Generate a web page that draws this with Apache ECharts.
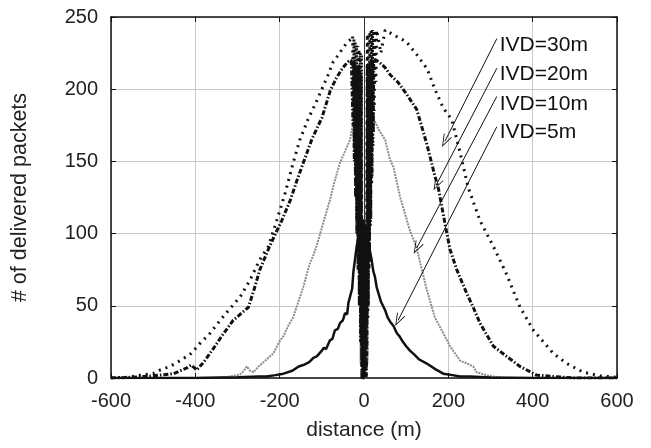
<!DOCTYPE html>
<html>
<head>
<meta charset="utf-8">
<script src="https://cdn.jsdelivr.net/npm/echarts@6/dist/echarts.min.js"></script>
<style>
  html, body { margin: 0; padding: 0; background: #fff; }
  #chart { width: 651px; height: 448px; }
</style>
</head>
<body>
<div id="chart"></div>
<script>
// IVD=30m (dotted)
var ivd30X = [-600, -560, -530, -500, -484, -460, -436, -410, -389, -365, -341, -318, -294, -270, -247, -227, -207, -187, -168, -152, -133, -115, -100, -85, -73, -60, -49, -38, -29,
  -27, -26, -24, -23, -21, -20, -18, -17, -15, -14, -12, -11, -9, -8, -6, -5, 0, 5,
  6, 8, 9, 11, 12, 14, 15, 17, 18, 20, 21, 23, 24, 26, 28, 30,
  40, 50, 62, 80, 100, 125, 150, 168, 188, 208, 228, 247, 275, 307, 338, 370, 402, 449, 481, 520, 560, 600];
var ivd30Y = [0, 0.5, 2, 3, 5.5, 8, 12, 17, 24, 31, 40, 48, 56, 68, 82, 91, 109, 128, 149, 165, 179, 190, 200, 210, 219, 224, 229, 233, 235,
  237, 190, 235, 160, 233, 135, 231, 110, 230, 85, 228, 60, 226, 35, 224, 0, 0, 0,
  0, 238, 40, 239, 75, 240, 105, 241, 135, 241, 160, 241, 185, 241, 205, 241, 225, 241,
  239, 236, 233, 224, 214, 200, 187, 179, 156, 132, 109, 91, 72, 49, 33, 17, 10, 4, 1.5, 0.5, 0, 0];

// IVD=20m (dash-dot)
var ivd20X = [-600, -550, -500, -452, -420, -410, -402, -397, -380, -357, -335, -310, -290, -274, -260, -247, -227, -210, -195, -175, -160, -144, -124, -110, -100, -80, -65, -50, -38, -30,
  -28, -26, -25, -23, -22, -20, -19, -17, -16, -14, -13, -11, -10, -8, -7, -5, 0, 5,
  7, 8, 10, 11, 13, 14, 16, 17, 19, 20, 22, 23, 25,
  35, 50, 62, 80, 100, 125, 149, 168, 176, 192, 204, 220, 243, 259, 275, 307, 338, 370, 409, 450, 500, 600];
var ivd20Y = [0, 0.5, 1.5, 3, 7, 9, 7, 5.5, 11, 20.5, 30, 40, 45, 49, 62, 75, 89, 100, 109, 123, 136, 149, 165, 174, 180, 199, 208, 215, 219, 220,
  220, 175, 219, 150, 218, 125, 217, 100, 216, 75, 215, 50, 213, 25, 210, 0, 0, 0,
  20, 216, 50, 218, 80, 219, 110, 220, 140, 221, 170, 221, 220,
  219, 215, 210, 205, 197, 186, 162, 140, 132, 107, 89, 75, 59, 49, 38, 22, 15, 8, 2, 1, 0, 0];

// IVD=10m (grey fine dots)
var ivd10X = [-600, -400, -330, -300, -294, -285, -278, -270, -262, -250, -238, -223, -215, -199, -191, -180, -168, -160, -144, -130, -120, -112, -100, -81, -70, -57, -45, -33, -25, -18,
  -16, -14, -13, -11, -10, -8, -7, -5, 0, 5, 7, 8, 10, 11, 13, 14, 16,
  18, 22, 35, 50, 62, 70, 85, 109, 125, 133, 149, 168, 188, 204, 228, 245, 259, 267, 290, 307, 350, 600];
var ivd10Y = [0, 0, 0.5, 2, 2.5, 5, 8, 5, 4, 8, 11, 15, 17, 26, 29, 36, 42, 49, 63, 78, 85, 92, 104, 123, 136, 149, 157, 165, 178, 188,
  190, 100, 188, 50, 182, 10, 170, 0, 0, 0, 170, 10, 182, 50, 188, 100, 190,
  192, 180, 172, 165, 151, 146, 126, 102, 90, 80, 61, 42, 31, 22, 12, 10, 8, 4, 2, 1, 0, 0];

// IVD=5m (solid)
var ivd5X = [-600, -400, -300, -250, -231, -210, -191, -170, -155, -144, -130, -120, -112, -100, -95, -90, -81, -75, -69, -62, -57, -50, -45, -40, -37, -33, -28, -25, -20, -17, -13, -10,
  -8, -7, -6, -5, -4, -3, -2, -1, 0, 1, 2, 3, 4, 5, 6, 7, 8,
  10, 14, 18, 22, 26, 30, 35, 40, 45, 50, 56, 62, 70, 78, 84, 90, 100, 109, 120, 130, 149, 170, 188, 210, 228, 251, 300, 400, 600];
var ivd5Y = [0, 0, 0.5, 1, 1, 2, 3, 5, 8, 9, 11, 14, 15, 19, 21, 20, 26, 27, 33, 34, 38, 40, 45, 44, 52, 51, 62, 74, 85, 92, 96, 100,
  103, 30, 106, 10, 108, 0, 110, 0, 109, 0, 107, 5, 104, 20, 101, 40, 98,
  95, 88, 82, 74, 70, 63, 58, 53, 50, 47, 42, 39, 36, 31, 29, 26, 22, 19, 16, 13, 10, 6, 3, 2, 1, 1, 0.3, 0, 0];

var xTicks = [-600, -400, -200, 0, 200, 400, 600];
var yTicks = [0, 50, 100, 150, 200, 250];

// label anchors and arrow ends, in data units
var seriesNames = ['IVD=30m', 'IVD=20m', 'IVD=10m', 'IVD=5m'];
var labelAt = [[322, 230], [322, 210], [322, 189], [322, 170]];
var arrowFrom = [[315, 235], [315, 214.5], [315, 195], [315, 174]];
var arrowTo = [[192, 164], [172, 134], [125, 90], [81, 40]];

function pairs(xs, ys) {
  return xs.map(function (x, i) { return [x, ys[i]]; });
}

var font = 'Liberation Sans, Arial, Helvetica, sans-serif';
var myChart = echarts.init(document.getElementById('chart'));

var arrowPath = 'path://M0,10 L5,0 L10,10 L9,10 L5,2 L1,10 Z';

var option = {
  animation: false,
  backgroundColor: '#fff',
  grid: { left: 111, right: 34, top: 17, bottom: 70 },
  xAxis: [{
    type: 'value', min: xTicks[0], max: xTicks[xTicks.length - 1], interval: 200,
    name: 'distance (m)', nameLocation: 'middle', nameGap: 42,
    nameTextStyle: { fontFamily: font, fontSize: 21, color: '#222' },
    axisLine: { onZero: false, lineStyle: { color: '#111', width: 1.5 } },
    axisTick: { inside: true, length: 5, lineStyle: { color: '#111' } },
    axisLabel: { fontFamily: font, fontSize: 20, color: '#222', margin: 13 },
    splitLine: { show: true, lineStyle: { color: '#c8c8c8', width: 1 } }
  }, {
    type: 'value', min: xTicks[0], max: xTicks[xTicks.length - 1], interval: 200, position: 'top',
    axisLine: { onZero: false, lineStyle: { color: '#111', width: 1.5 } },
    axisTick: { inside: true, length: 5, lineStyle: { color: '#111' } },
    axisLabel: { show: false },
    splitLine: { show: false }
  }],
  yAxis: [{
    type: 'value', min: yTicks[0], max: yTicks[yTicks.length - 1], interval: 50,
    name: '# of delivered packets', nameLocation: 'middle', nameGap: 80,
    nameTextStyle: { fontFamily: font, fontSize: 21.5, color: '#222' },
    axisLine: { show: true, onZero: false, lineStyle: { color: '#111', width: 1.5 } },
    axisTick: { show: true, inside: true, length: 5, lineStyle: { color: '#111' } },
    axisLabel: { fontFamily: font, fontSize: 20, color: '#222', margin: 13 },
    splitLine: { show: true, lineStyle: { color: '#c8c8c8', width: 1 } }
  }, {
    type: 'value', min: yTicks[0], max: yTicks[yTicks.length - 1], interval: 50, position: 'right',
    axisLine: { show: true, onZero: false, lineStyle: { color: '#111', width: 1.5 } },
    axisTick: { show: true, inside: true, length: 5, lineStyle: { color: '#111' } },
    axisLabel: { show: false },
    splitLine: { show: false }
  }],
  series: [{
    name: 'IVD=10m', type: 'line', showSymbol: false, z: 2,
    data: pairs(ivd10X, ivd10Y),
    lineStyle: { color: '#8c8c8c', width: 2, type: [2, 1] },
    markLine: {
      silent: true, symbol: 'none', label: { show: false },
      lineStyle: { color: '#333', width: 1, type: 'solid' },
      data: [{ xAxis: 0 }]
    }
  }, {
    name: 'IVD=30m', type: 'line', showSymbol: false, z: 3,
    data: pairs(ivd30X, ivd30Y),
    lineStyle: { color: '#111', width: 3, type: [2, 5] }
  }, {
    name: 'IVD=20m', type: 'line', showSymbol: false, z: 4,
    data: pairs(ivd20X, ivd20Y),
    lineStyle: { color: '#111', width: 3, type: [5, 2, 1.5, 2] }
  }, {
    name: 'IVD=5m', type: 'line', showSymbol: false, z: 5,
    data: pairs(ivd5X, ivd5Y),
    lineStyle: { color: '#111', width: 2.5 },
    markLine: {
      silent: true, symbol: ['none', arrowPath], symbolSize: [9, 13],
      label: { show: false },
      lineStyle: { color: '#111', width: 1, type: 'solid' },
      data: arrowFrom.map(function (p, i) {
        return [{ coord: p }, { coord: arrowTo[i] }];
      })
    }
  }]
};
myChart.setOption(option);

// series labels, placed from data units
myChart.setOption({
  graphic: seriesNames.map(function (name, i) {
    var pt = myChart.convertToPixel({ gridIndex: 0 }, labelAt[i]);
    return {
      type: 'text', left: pt[0], top: pt[1] - 11,
      style: { text: name, fontFamily: font, fontSize: 21, fill: '#111' }
    };
  })
});
window.addEventListener('resize', myChart.resize);
</script>
</body>
</html>
